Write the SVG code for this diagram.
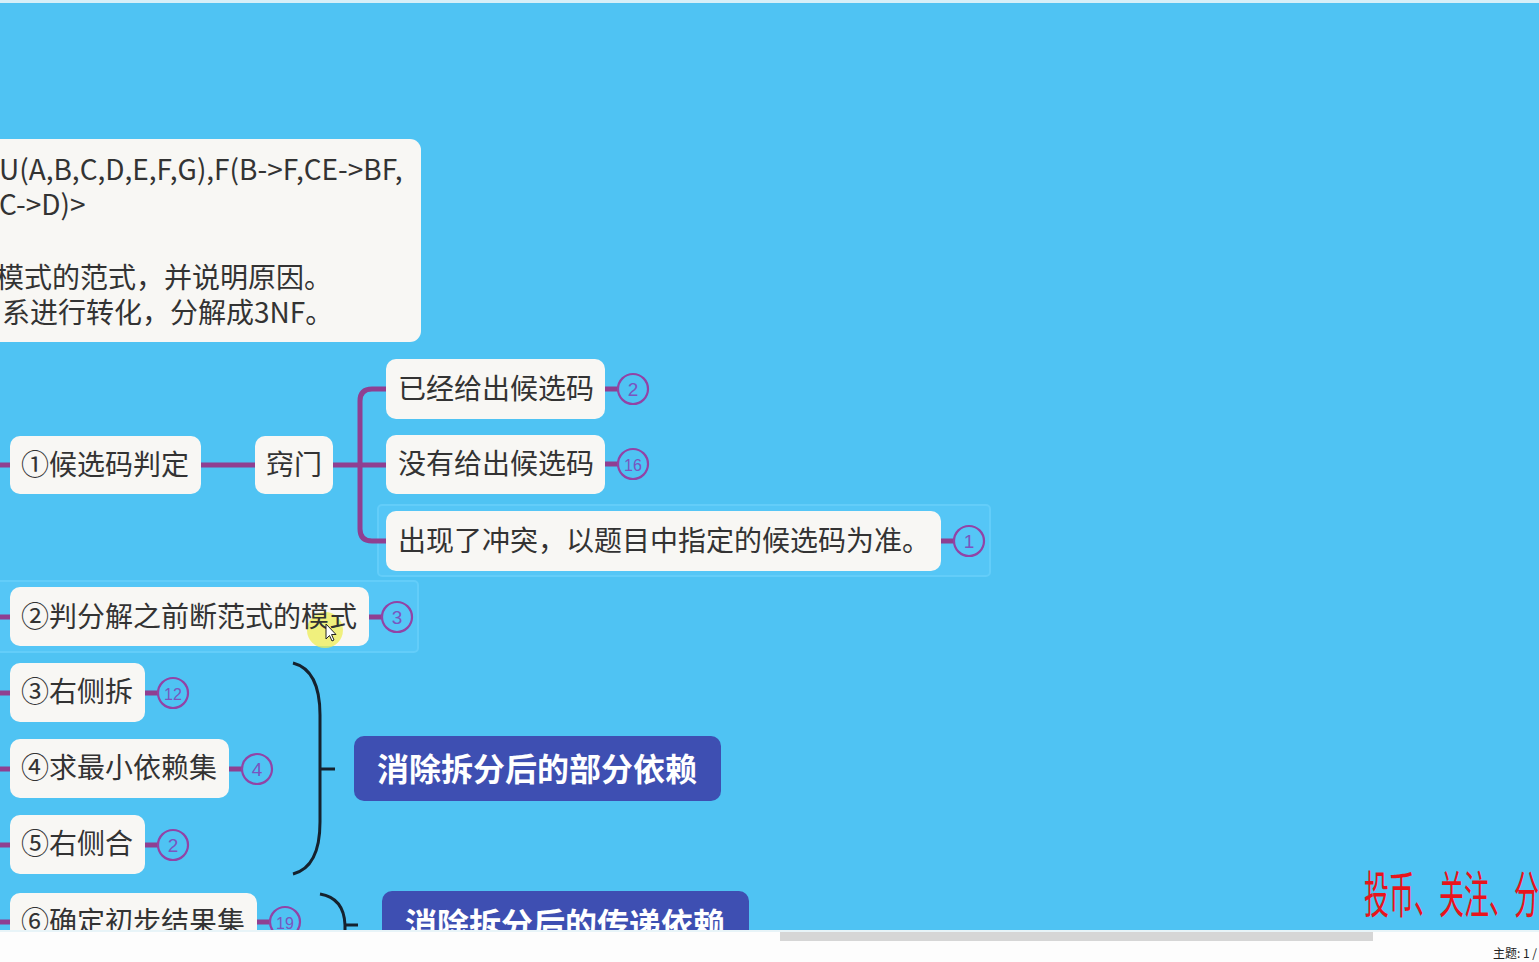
<svg xmlns="http://www.w3.org/2000/svg" width="1539" height="962" viewBox="0 0 1539 962">
<style>
.node{fill:#f8f7f4;}
.t{font-family:"Noto Sans CJK SC","Noto Sans",sans-serif;font-size:28px;fill:#333333;}
.ln{stroke:#8f3f91;stroke-width:5;fill:none;}
.badge{fill:none;stroke:#9243a6;stroke-width:2.2;}
.bt{font-family:"Liberation Sans","Noto Sans",sans-serif;font-size:19px;fill:#7a55c0;text-anchor:middle;}
.sum{fill:#3e4fb2;}
.st{font-family:"Noto Sans CJK SC",sans-serif;font-size:32px;font-weight:bold;fill:#ffffff;}
.brace{stroke:#15222e;stroke-width:3;fill:none;}
.sel{fill:#55c6f6;stroke:#63cdf9;stroke-width:2;}
</style>
<defs>
<clipPath id="canvas"><rect x="0" y="3" width="1539" height="927"/></clipPath>
</defs>
<rect x="0" y="0" width="1539" height="962" fill="#fdfdfd"/>
<rect x="0" y="0" width="1539" height="4" fill="#d6eff8"/>
<g clip-path="url(#canvas)">
<rect x="0" y="3" width="1539" height="927" fill="#4fc3f3"/>

<rect class="sel" x="378" y="505" width="612" height="71" rx="4"/>
<rect class="sel" x="-5" y="581" width="423" height="71" rx="4"/>

<g id="connectors">
<path class="ln" d="M0 465H10"/>
<path class="ln" d="M201 465H255"/>
<path class="ln" d="M333 465H386"/>
<path class="ln" d="M386 389H372Q360 389 360 401V529Q360 541 372 541H386"/>
<path class="ln" d="M605 389H619"/>
<path class="ln" d="M605 464H619"/>
<path class="ln" d="M941 541H955"/>
<path class="ln" d="M0 617H10"/>
<path class="ln" d="M369 617H383"/>
<path class="ln" d="M0 693H10"/>
<path class="ln" d="M145 693H159"/>
<path class="ln" d="M0 769H10"/>
<path class="ln" d="M229 769H243"/>
<path class="ln" d="M0 845H10"/>
<path class="ln" d="M145 845H159"/>
<path class="ln" d="M0 922H10"/>
<path class="ln" d="M257 922H271"/>
<path class="brace" d="M293 663Q320 670 320 715V822Q320 867 293 874"/>
<path class="brace" d="M320 769H335"/>
<path class="brace" d="M320 894Q344 898 345 925V940"/>
<path class="brace" d="M345 925H358"/>
</g>

<g id="topic">
<rect class="node" x="-20" y="139" width="441" height="203" rx="11"/>
<text class="t" x="-1" y="180">U(A,B,C,D,E,F,G),F(B-&gt;F,CE-&gt;BF,</text>
<text class="t" x="-1" y="215">C-&gt;D)&gt;</text>
<text class="t" x="-4" y="288">模式的范式，并说明原因。</text>
<text class="t" x="2" y="323">系进行转化，分解成3NF。</text>
</g>

<g id="n1">
<rect class="node" x="10" y="436" width="191" height="58" rx="10"/>
<text class="t" x="21" y="475">①候选码判定</text>
</g>
<g id="n1a">
<rect class="node" x="255" y="436" width="78" height="58" rx="10"/>
<text class="t" x="266" y="475">窍门</text>
</g>
<g id="n1a1">
<rect class="node" x="386" y="359" width="219" height="60" rx="10"/>
<text class="t" x="398" y="399">已经给出候选码</text>
<circle class="badge" cx="633" cy="389" r="15"/>
<text class="bt" x="633" y="396">2</text>
</g>
<g id="n1a2">
<rect class="node" x="386" y="435" width="219" height="59" rx="10"/>
<text class="t" x="398" y="474">没有给出候选码</text>
<circle class="badge" cx="633" cy="464" r="15"/>
<text class="bt" x="633" y="471" style="font-size:16px">16</text>
</g>
<g id="n1a3">
<rect class="node" x="386" y="511" width="555" height="60" rx="10"/>
<text class="t" x="398" y="551">出现了冲突，以题目中指定的候选码为准。</text>
<circle class="badge" cx="969" cy="541" r="15"/>
<text class="bt" x="969" y="548">1</text>
</g>
<g id="n2">
<rect class="node" x="10" y="587" width="359" height="59" rx="10"/>
<circle cx="325" cy="630" r="18" fill="#eeee55" opacity="0.75"/>
<text class="t" x="21" y="627">②判分解之前断范式的模式</text>
<path d="M326 624V639L329.5 635.5L332 641L334 640L331.5 634.5H336Z" fill="#ffffff" stroke="#222" stroke-width="1"/>
<circle class="badge" cx="397" cy="617" r="15"/>
<text class="bt" x="397" y="624">3</text>
</g>
<g id="n3">
<rect class="node" x="10" y="663" width="135" height="59" rx="10"/>
<text class="t" x="21" y="702">③右侧拆</text>
<circle class="badge" cx="173" cy="693" r="15"/>
<text class="bt" x="173" y="700" style="font-size:16px">12</text>
</g>
<g id="n4">
<rect class="node" x="10" y="739" width="219" height="59" rx="10"/>
<text class="t" x="21" y="778">④求最小依赖集</text>
<circle class="badge" cx="257" cy="769" r="15"/>
<text class="bt" x="257" y="776">4</text>
</g>
<g id="n5">
<rect class="node" x="10" y="815" width="135" height="59" rx="10"/>
<text class="t" x="21" y="854">⑤右侧合</text>
<circle class="badge" cx="173" cy="845" r="15"/>
<text class="bt" x="173" y="852">2</text>
</g>
<g id="n6">
<rect class="node" x="10" y="893" width="247" height="59" rx="10"/>
<text class="t" x="21" y="932">⑥确定初步结果集</text>
<circle class="badge" cx="285" cy="922" r="15"/>
<text class="bt" x="285" y="929" style="font-size:16px">19</text>
</g>
<g id="s1">
<rect class="sum" x="354" y="736" width="367" height="65" rx="10"/>
<text class="st" x="537" y="781" text-anchor="middle">消除拆分后的部分依赖</text>
</g>
<g id="s2">
<rect class="sum" x="382" y="891" width="367" height="65" rx="10"/>
<text class="st" x="565" y="936" text-anchor="middle">消除拆分后的传递依赖</text>
</g>
<text transform="translate(1364 913) scale(0.5 1)" x="0" y="0" style="font-family:'Noto Sans CJK SC',sans-serif;font-size:50px;fill:#e8141c;">投币、关注、分享</text>
</g>
<rect x="0" y="930" width="1539" height="2" fill="#e8f4f8"/>
<rect x="780" y="932" width="593" height="9" fill="#d6d6d6"/>
<text x="1493" y="958" style="font-family:'Noto Sans CJK SC',sans-serif;font-size:12px;fill:#222;">主题: 1 /</text>
</svg>
